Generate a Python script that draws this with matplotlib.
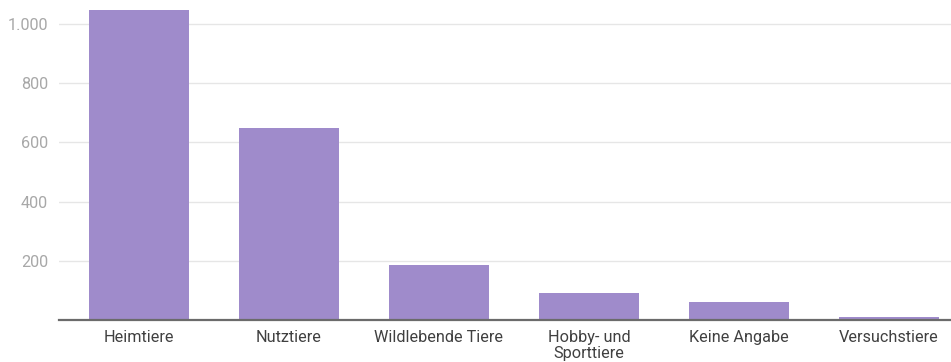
import matplotlib.pyplot as plt
from matplotlib.ticker import FuncFormatter

kategorien = ["Heimtiere", "Nutztiere", "Wildlebende Tiere", "Hobby- und\nSporttiere",
              "Keine Angabe", "Versuchstiere"]
anzahl = [1047, 650, 186, 91, 61, 9]
y_ticks = [200, 400, 600, 800, 1000]

plt.rcParams['font.family'] = ['Roboto', 'DejaVu Sans']

fig = plt.figure(figsize=(9.51, 3.62), dpi=100)
ax = fig.add_axes([59 / 951, 42 / 362, 892 / 951, 320 / 362])

x = list(range(len(kategorien)))
ax.bar(x, anzahl, width=0.667, color='#9f8bcb', zorder=2)

ax.set_xlim(-0.533, 5.413)
ax.set_ylim(0, 1081)
ax.set_yticks(y_ticks)
ax.yaxis.set_major_formatter(FuncFormatter(lambda v, p: f"{int(v):,}".replace(",", ".")))
ax.set_xticks(x)
ax.set_xticklabels(kategorien, linespacing=1.1)

ax.grid(axis='y', color='#e6e6e6', linewidth=1, zorder=0)
for s in ['top', 'right', 'left']:
    ax.spines[s].set_visible(False)
ax.spines['bottom'].set_color('#6b6b6b')
ax.spines['bottom'].set_linewidth(1.6)
ax.spines['bottom'].set_zorder(3)

ax.tick_params(axis='y', length=0, pad=8, labelsize=11.7, labelcolor='#a8a8a8')
ax.tick_params(axis='x', length=0, pad=7, labelsize=11.7, labelcolor='#404040')

fig.savefig("out.png", dpi=100)
